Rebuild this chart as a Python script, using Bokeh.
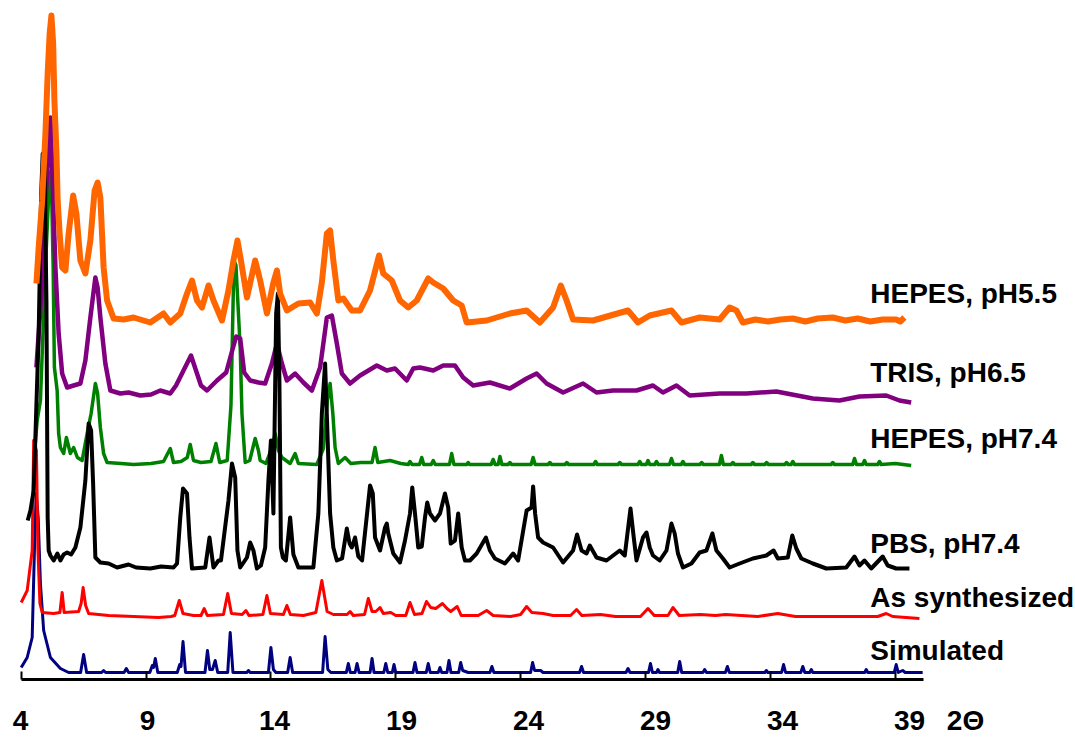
from bokeh.plotting import figure
from bokeh.models import Range1d, LinearAxis, FixedTicker, Label
from bokeh.embed import file_html
from bokeh.resources import INLINE

# ---------------- data (2-theta, intensity above the pattern's own baseline) ----------------
tick_values = [4, 9, 14, 19, 24, 29, 34, 39]
tick_labels = ["4", "9", "14", "19", "24", "29", "34", "39"]
axis_symbol = "2\u0398"

series_names = ["Simulated", "As synthesized", "PBS, pH7.4",
                "HEPES, pH7.4", "TRIS, pH6.5", "HEPES, pH5.5"]
series_offsets = [7, 62, 111, 214, 279, 357]

simulated = [
    (4.00, 5), (4.24, 15), (4.44, 35), (4.53, 122), (4.60, 179), (4.68, 155), (4.77, 89),
    (4.90, 42), (5.17, 15), (5.57, 4), (5.90, 0),
    (6.38, 0), (6.50, 18), (6.62, 0), (7.22, 0), (7.30, 2), (7.38, 0),
    (8.12, 0), (8.21, 4), (8.30, 0), (9.15, 0), (9.25, 7), (9.30, 5), (9.37, 14), (9.47, 0),
    (10.25, 0), (10.35, 8), (10.40, 6), (10.48, 31), (10.58, 0),
    (11.36, 0), (11.46, 22), (11.55, 3), (11.66, 3), (11.77, 12), (11.87, 0),
    (12.27, 0), (12.37, 40), (12.48, 0), (13.03, 0), (13.10, 2), (13.17, 0),
    (13.90, 0), (14.00, 25), (14.10, 3), (14.20, 0), (14.67, 0), (14.77, 15), (14.87, 0),
    (16.07, 0), (16.17, 36), (16.28, 3), (16.40, 0),
    (17.02, 0), (17.10, 9), (17.18, 0), (17.37, 0), (17.45, 9), (17.53, 0),
    (17.97, 0), (18.05, 14), (18.13, 0), (18.52, 0), (18.60, 9), (18.68, 0),
    (18.86, 0), (18.93, 8), (19.00, 0), (19.69, 0), (19.77, 10), (19.85, 0),
    (20.22, 0), (20.30, 9), (20.38, 0), (20.70, 0), (20.77, 5), (20.84, 0),
    (21.05, 0), (21.13, 12), (21.21, 0), (21.52, 0), (21.60, 10), (21.68, 2), (21.90, 0),
    (22.77, 0), (22.85, 6), (22.93, 0), (24.40, 0), (24.48, 10), (24.56, 2), (24.80, 2), (24.90, 0),
    (26.36, 0), (26.44, 6), (26.52, 0), (28.22, 0), (28.30, 4), (28.38, 0),
    (29.12, 0), (29.20, 9), (29.28, 0), (29.44, 0), (29.50, 3), (29.56, 0),
    (30.29, 0), (30.37, 11), (30.45, 0), (31.30, 0), (31.37, 3), (31.44, 0),
    (32.20, 0), (32.28, 6), (32.36, 0), (33.78, 0), (33.84, 2), (33.90, 0),
    (34.45, 0), (34.53, 8), (34.61, 0), (35.22, 0), (35.30, 6), (35.38, 0),
    (35.58, 0), (35.64, 3), (35.70, 0), (37.78, 0), (37.84, 3), (37.90, 0),
    (38.96, 0), (39.04, 8), (39.12, 0), (39.30, 2), (39.40, 0), (40.10, 0),
]

as_synthesized = [
    (4.00, 15), (4.24, 27), (4.44, 67), (4.50, 177), (4.61, 167), (4.67, 67), (4.75, 14),
    (4.84, 5), (5.30, 4), (5.55, 5), (5.64, 25), (5.72, 5),
    (6.30, 6), (6.40, 14), (6.48, 30), (6.58, 12), (6.70, 4),
    (7.50, 2), (8.50, 1), (9.50, 0), (10.00, 1), (10.15, 2), (10.33, 17), (10.48, 4),
    (10.90, 2), (11.20, 2), (11.33, 9), (11.45, 2), (12.10, 3), (12.27, 24), (12.42, 4),
    (12.85, 3), (13.00, 7), (13.12, 2), (13.68, 3), (13.84, 22), (13.98, 4),
    (14.50, 3), (14.64, 12), (14.78, 3), (15.30, 2), (15.80, 5), (16.04, 37), (16.25, 6),
    (16.50, 3), (17.05, 3), (17.17, 6), (17.30, 2), (17.75, 3), (17.90, 19), (18.05, 6),
    (18.20, 6), (18.37, 10), (18.50, 4), (18.80, 5), (19.00, 2), (19.40, 2), (19.57, 15),
    (19.75, 3), (20.05, 4), (20.23, 16), (20.40, 10), (20.60, 9), (20.87, 14), (21.05, 9),
    (21.20, 6), (21.46, 11), (21.62, 2), (22.30, 2), (22.64, 7), (22.90, 2), (23.60, 1),
    (24.00, 3), (24.24, 11), (24.45, 5), (24.90, 4), (25.30, 2), (26.00, 2), (26.24, 8),
    (26.45, 2), (27.20, 3), (27.80, 1), (28.80, 1), (29.10, 9), (29.35, 2), (29.90, 2),
    (30.10, 10), (30.35, 2), (31.20, 3), (31.80, 2), (32.20, 3), (33.50, 1), (34.30, 4),
    (35.00, 1), (36.50, 1), (38.30, 1), (38.64, 4), (38.90, 1), (39.97, -1),
]

pbs_74 = [
    (4.26, 48), (4.37, 58), (4.50, 78), (4.70, 235), (4.80, 375), (4.86, 415), (4.93, 415),
    (5.01, 268), (5.06, 51), (5.10, 18), (5.17, 13), (5.30, 8), (5.45, 15), (5.57, 8),
    (5.70, 14), (5.84, 16), (6.00, 14), (6.17, 21), (6.37, 41), (6.57, 88), (6.70, 145),
    (6.80, 138), (6.88, 85), (6.97, 11), (7.17, 6), (7.50, 5), (7.84, 1), (8.30, 4),
    (8.60, 1), (9.17, 0), (9.60, 2), (10.10, 1),
    (10.24, 5), (10.37, 51), (10.48, 80), (10.64, 75), (10.74, 31), (10.84, 0),
    (11.37, 1), (11.54, 31), (11.70, 1), (11.90, 8), (12.00, 8),
    (12.30, 68), (12.44, 105), (12.57, 91), (12.66, 18), (12.77, 1),
    (13.04, 11), (13.17, 26), (13.30, 18), (13.44, 0), (13.60, 3),
    (13.77, 21), (13.90, 88), (14.00, 128), (14.10, 55), (14.21, 255), (14.28, 275),
    (14.34, 188), (14.40, 21), (14.48, 11), (14.60, 8), (14.77, 51), (14.90, 14),
    (15.10, 1), (15.70, 1), (15.90, 55), (16.04, 155), (16.17, 205), (16.26, 138),
    (16.37, 55), (16.50, 21), (16.64, 8), (16.85, 10), (17.04, 40), (17.15, 25),
    (17.24, 21), (17.37, 31), (17.50, 12), (17.65, 8), (17.97, 83), (18.08, 75),
    (18.17, 31), (18.37, 18), (18.57, 41), (18.64, 45), (18.70, 35), (18.90, 15),
    (19.17, 6), (19.37, 28), (19.57, 55), (19.66, 81), (19.77, 55), (19.90, 21),
    (20.04, 22), (20.17, 51), (20.26, 66), (20.37, 55), (20.57, 48), (20.77, 55),
    (20.97, 75), (21.10, 61), (21.20, 25), (21.37, 28), (21.50, 55), (21.64, 21),
    (21.77, 8), (21.97, 8), (22.24, 15), (22.61, 31), (22.77, 18), (22.97, 10),
    (23.37, 5), (23.70, 15), (23.90, 8), (24.24, 58), (24.44, 61), (24.50, 82),
    (24.58, 55), (24.70, 31), (24.90, 26), (25.30, 21), (25.70, 6), (26.10, 18),
    (26.26, 34), (26.44, 18), (26.64, 15), (26.77, 23), (27.04, 11), (27.44, 8),
    (27.97, 18), (28.17, 13), (28.40, 60), (28.53, 31), (28.64, 8), (28.90, 31),
    (29.04, 36), (29.17, 21), (29.30, 13), (29.57, 8), (29.84, 18), (30.04, 45),
    (30.17, 35), (30.30, 15), (30.50, 1), (30.84, 5), (31.17, 16), (31.44, 18),
    (31.68, 35), (31.84, 18), (32.10, 10), (32.37, 1), (32.77, 5), (33.30, 10),
    (33.84, 13), (34.13, 18), (34.30, 10), (34.70, 11), (34.88, 33), (35.04, 20),
    (35.24, 10), (35.70, 5), (36.24, 0), (37.04, 1), (37.37, 12), (37.57, 3),
    (37.77, 8), (38.04, 0), (38.50, 12), (38.70, 3), (39.04, 0), (39.57, 0),
]

hepes_74 = [
    (4.55, 18), (4.64, 45), (4.77, 65), (4.97, 198), (5.14, 292), (5.20, 295), (5.28, 198),
    (5.33, 98), (5.44, 75), (5.50, 32), (5.57, 18), (5.70, 12), (5.81, 28), (5.97, 12),
    (6.10, 18), (6.25, 8), (6.44, 5), (6.64, 32), (6.80, 52), (6.97, 82), (7.06, 72),
    (7.17, 38), (7.30, 12), (7.44, 3), (8.00, 2), (8.50, 1), (9.20, 2), (9.70, 4),
    (9.97, 17), (10.10, 3), (10.40, 4), (10.65, 8), (10.77, 21), (10.90, 5), (11.20, 3),
    (11.60, 4), (11.80, 22), (11.95, 3), (12.25, 5), (12.40, 60), (12.52, 205),
    (12.60, 200), (12.77, 118), (12.84, 52), (12.97, 3), (13.15, 5), (13.25, 15),
    (13.37, 27), (13.50, 15), (13.57, 5), (13.80, 2), (14.04, 18), (14.17, 32),
    (14.30, 15), (14.44, 8), (14.77, 2), (14.97, 12), (15.10, 2), (15.84, 1),
    (16.10, 17), (16.26, 65), (16.37, 82), (16.48, 52), (16.57, 18), (16.70, 2),
    (16.97, 8), (17.20, 2), (17.60, 3), (18.05, 3), (18.17, 18), (18.28, 3),
    (18.77, 5), (19.20, 2), (19.50, 1), (19.57, 4), (19.65, 1), (19.95, 1), (20.04, 8),
    (20.12, 1), (20.42, 1), (20.50, 5), (20.58, 1), (21.15, 1), (21.24, 12), (21.33, 1),
    (21.85, 1), (21.90, 3), (21.96, 1), (22.82, 1), (22.90, 6), (22.98, 1), (23.10, 1),
    (23.17, 9), (23.25, 1), (23.50, 1), (23.57, 3), (23.64, 1), (24.42, 1), (24.50, 8),
    (24.58, 1), (25.10, 1), (25.17, 3), (25.24, 1), (25.78, 1), (25.85, 3), (25.92, 1),
    (26.93, 1), (27.00, 4), (27.07, 1), (27.90, 1), (27.97, 3), (28.04, 1), (28.70, 1),
    (28.77, 4), (28.84, 1), (29.03, 1), (29.10, 5), (29.17, 1), (29.37, 1), (29.44, 4),
    (29.51, 1), (29.96, 1), (30.04, 7), (30.12, 1), (30.43, 1), (30.50, 4), (30.57, 1),
    (31.18, 1), (31.25, 3), (31.32, 1), (31.96, 1), (32.04, 10), (32.12, 1), (32.43, 1),
    (32.50, 3), (32.57, 1), (33.23, 1), (33.30, 3), (33.37, 1), (33.78, 1), (33.85, 3),
    (33.92, 1), (34.58, 1), (34.65, 3), (34.72, 1), (34.83, 1), (34.90, 4), (34.97, 1),
    (36.43, 1), (36.50, 3), (36.57, 1), (37.30, 1), (37.37, 7), (37.45, 1), (37.70, 1),
    (37.77, 5), (37.84, 1), (38.30, 1), (38.37, 4), (38.44, 1), (39.00, 2), (39.64, 0),
]

tris_65 = [
    (4.61, 33), (4.70, 67), (4.84, 117), (4.97, 200), (5.10, 250), (5.17, 283), (5.24, 233),
    (5.37, 133), (5.50, 67), (5.64, 27), (5.84, 13), (6.10, 15), (6.37, 17), (6.57, 40),
    (6.77, 83), (6.97, 123), (7.06, 113), (7.17, 83), (7.37, 37), (7.57, 10), (7.97, 7),
    (8.30, 8), (8.77, 5), (9.20, 6), (9.57, 10), (9.97, 7), (10.20, 15), (10.44, 27),
    (10.80, 45), (11.04, 27), (11.20, 15), (11.44, 10), (11.84, 20), (12.21, 28),
    (12.45, 50), (12.61, 64), (12.77, 62), (12.93, 28), (13.17, 20), (13.50, 18),
    (13.77, 17), (14.04, 37), (14.24, 57), (14.44, 37), (14.64, 20), (14.97, 27),
    (15.30, 18), (15.64, 10), (15.97, 33), (16.24, 83), (16.44, 85), (16.64, 57),
    (16.84, 27), (17.17, 17), (17.57, 25), (18.24, 35), (18.64, 30), (18.97, 32),
    (19.44, 20), (19.70, 32), (19.97, 33), (20.50, 30), (20.90, 35), (21.37, 35),
    (21.70, 23), (22.10, 15), (22.77, 18), (23.57, 12), (24.24, 22), (24.64, 27),
    (25.04, 17), (25.70, 8), (26.50, 17), (27.04, 8), (27.70, 10), (28.64, 10),
    (29.30, 15), (29.70, 8), (30.24, 15), (30.77, 5), (31.97, 7), (33.04, 7),
    (34.24, 9), (35.70, 2), (36.77, 0), (37.57, 4), (38.64, 5), (39.17, 0), (39.64, -2),
]

hepes_55 = [
    (4.61, 39), (4.70, 75), (4.84, 122), (4.97, 189), (5.06, 249), (5.14, 289), (5.21, 307),
    (5.28, 279), (5.33, 222), (5.41, 172), (5.46, 122), (5.54, 89), (5.64, 55), (5.77, 52),
    (5.90, 89), (6.08, 127), (6.21, 109), (6.37, 62), (6.57, 49), (6.77, 82), (6.94, 132),
    (7.06, 140), (7.17, 125), (7.30, 55), (7.44, 22), (7.70, 4), (8.10, 3), (8.50, 5),
    (9.17, 0), (9.70, 9), (9.97, 0), (10.37, 9), (10.64, 29), (10.84, 42), (11.04, 22),
    (11.24, 15), (11.50, 37), (11.70, 22), (12.04, 2), (12.30, 32), (12.50, 62),
    (12.66, 82), (12.80, 62), (13.04, 25), (13.37, 62), (13.57, 42), (13.84, 9),
    (14.10, 40), (14.24, 52), (14.37, 29), (14.64, 12), (15.10, 19), (15.57, 20),
    (15.84, 9), (16.04, 40), (16.24, 89), (16.37, 92), (16.50, 62), (16.70, 22),
    (16.90, 24), (17.24, 12), (17.57, 12), (17.97, 32), (18.33, 67), (18.50, 49),
    (18.84, 42), (19.17, 22), (19.50, 15), (19.84, 22), (20.30, 44), (20.50, 40),
    (20.90, 34), (21.30, 22), (21.64, 17), (21.84, 0), (22.64, 2), (23.57, 9),
    (24.24, 12), (24.77, 0), (25.30, 15), (25.61, 37), (25.84, 22), (26.10, 3),
    (26.90, 2), (28.30, 12), (28.70, 0), (29.17, 7), (30.04, 12), (30.44, 0),
    (31.17, 5), (31.97, 3), (32.37, 15), (32.64, 12), (32.90, 0), (33.40, 3),
    (33.90, 1), (34.40, 3), (34.90, 4), (35.40, 1), (35.90, 4), (36.50, 5),
    (37.00, 2), (37.50, 4), (38.00, 1), (38.50, 3), (39.04, 3), (39.20, 1), (39.37, 5),
]

# ---------------- styling ----------------
FONT = "Liberation Sans"
styles = {
    "Simulated":      dict(color="#000080", width=3),
    "As synthesized": dict(color="#FF0000", width=3),
    "PBS, pH7.4":     dict(color="#000000", width=4),
    "HEPES, pH7.4":   dict(color="#008000", width=3.5),
    "TRIS, pH6.5":    dict(color="#800080", width=4.5),
    "HEPES, pH5.5":   dict(color="#FF6600", width=6),
}
patterns = {
    "Simulated": simulated,
    "As synthesized": as_synthesized,
    "PBS, pH7.4": pbs_74,
    "HEPES, pH7.4": hepes_74,
    "TRIS, pH6.5": tris_65,
    "HEPES, pH5.5": hepes_55,
}
draw_order = ["Simulated", "As synthesized", "HEPES, pH7.4", "TRIS, pH6.5",
              "PBS, pH7.4", "HEPES, pH5.5"]
label_baseline = {  # label baselines in plot y units
    "Simulated": 29, "As synthesized": 82, "PBS, pH7.4": 136,
    "HEPES, pH7.4": 241, "TRIS, pH6.5": 307, "HEPES, pH5.5": 386,
}

# frame spans to the right edge so that the series names are not clipped
p = figure(width=1075, height=740,
           x_range=Range1d(3.892, 46.22), y_range=Range1d(0, 679),
           x_axis_location=None, y_axis_location=None,
           toolbar_location=None, output_backend="svg",
           min_border_left=18, min_border_right=0,
           min_border_top=0, min_border_bottom=61)
p.outline_line_color = None
p.grid.visible = False
p.background_fill_color = "white"
p.border_fill_color = "white"

# axis carrying the line and the ticks
ax = LinearAxis(ticker=FixedTicker(ticks=tick_values), bounds=(4, 40.12))
ax.axis_line_width = 3
ax.axis_line_color = "black"
ax.major_tick_line_width = 2
ax.major_tick_in = 8
ax.major_tick_out = 0
ax.minor_tick_line_color = None
ax.major_label_text_font_size = "1px"
ax.major_label_text_color = None
ax.major_label_standoff = 0
p.add_layout(ax, "below")

# axis carrying the tick labels (the exported labels are spaced slightly wider)
label_ticks = tick_values + [41.2]
p.extra_x_ranges = {"labels": Range1d(3.921, 45.53)}
lax = LinearAxis(x_range_name="labels", ticker=FixedTicker(ticks=label_ticks))
overrides = {v: t for v, t in zip(tick_values, tick_labels)}
overrides[41.2] = axis_symbol
lax.major_label_overrides = overrides
lax.axis_line_color = None
lax.major_tick_line_color = None
lax.minor_tick_line_color = None
lax.major_tick_in = 0
lax.major_tick_out = 0
lax.major_label_standoff = 25
lax.major_label_text_font = FONT
lax.major_label_text_font_style = "bold"
lax.major_label_text_font_size = "28px"
lax.major_label_text_color = "black"
p.add_layout(lax, "below")

for name in draw_order:
    pts = patterns[name]
    off = series_offsets[series_names.index(name)]
    xs = [a for a, b in pts]
    ys = [b + off for a, b in pts]
    st = styles[name]
    p.line(xs, ys, line_color=st["color"], line_width=st["width"], line_join="round")

for name in series_names:
    p.add_layout(Label(x=38.0, y=label_baseline[name], text=name,
                       text_font=FONT, text_font_style="bold", text_font_size="28px",
                       text_color="black", text_baseline="alphabetic", text_align="left"))

open("out.html", "w").write(file_html(p, INLINE))
